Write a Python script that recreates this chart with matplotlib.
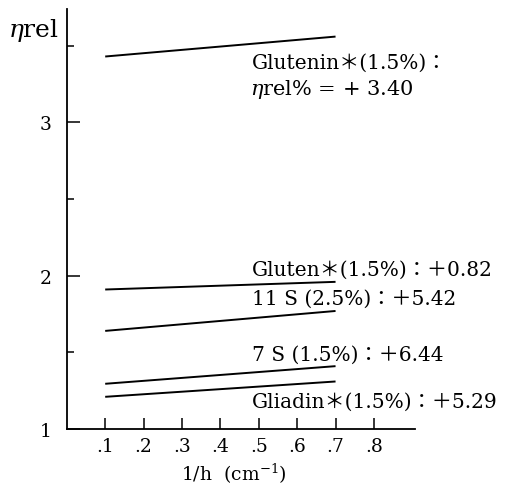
import numpy as np
import matplotlib.pyplot as plt
from matplotlib.ticker import FixedLocator

plt.rcParams['font.family'] = ['DejaVu Serif', 'Noto Sans CJK JP']
plt.rcParams['mathtext.fontset'] = 'dejavuserif'

# 1/h range of each fitted line and eta_rel at both ends
x_ends = [0.1, 0.7]
glutenin = [3.43, 3.56]
gluten = [1.91, 1.96]
s11 = [1.64, 1.77]
s7 = [1.295, 1.41]
gliadin = [1.21, 1.31]

series = [glutenin, gluten, s11, s7, gliadin]

labels = [
    "Glutenin＊(1.5%)：",
    "Gluten＊(1.5%)：＋0.82",
    "11 S (2.5%)：＋5.42",
    "7 S (1.5%)：＋6.44",
    "Gliadin＊(1.5%)：＋5.29",
]
label_xy = [(0.483, 3.39), (0.483, 2.04), (0.483, 1.856), (0.483, 1.49), (0.483, 1.18)]
glutenin_pct = "$\\eta$rel$\\%$ = + 3.40"

xticks = [0.1, 0.2, 0.3, 0.4, 0.5, 0.6, 0.7, 0.8]
xticklabels = [".1", ".2", ".3", ".4", ".5", ".6", ".7", ".8"]
yticks = [1, 2, 3]

fig = plt.figure(figsize=(5.26, 4.85), dpi=100)
ax = fig.add_axes([0.127, 0.1134, 0.662, 0.866])

for ys in series:
    ax.plot(x_ends, ys, color='black', lw=1.4, solid_capstyle='butt')

for txt, (tx, ty) in zip(labels, label_xy):
    ax.text(tx, ty, txt, fontsize=14.5, ha='left', va='center')
ax.text(0.477, 3.22, glutenin_pct, fontsize=15, ha='left', va='center')

ax.set_xlim(0, 0.907)
ax.set_ylim(1, 3.74)

ax.spines['top'].set_visible(False)
ax.spines['right'].set_visible(False)
ax.spines['left'].set_linewidth(1.3)
ax.spines['bottom'].set_linewidth(1.3)

ax.set_xticks(xticks)
ax.set_xticklabels(xticklabels)
ax.set_yticks(yticks)
ax.yaxis.set_minor_locator(FixedLocator([1.5, 2.5, 3.5]))
ax.tick_params(axis='both', which='major', direction='in', length=9, width=1.1,
               labelsize=13.5)
ax.tick_params(axis='x', which='major', length=8, pad=6)
ax.tick_params(axis='y', which='major', pad=11)
ax.tick_params(axis='y', which='minor', direction='in', length=5, width=1.1)

ax.set_xlabel("1/h  (cm$^{-1}$)", fontsize=13.5, labelpad=2)
ax.xaxis.set_label_coords(0.48, -0.075)
fig.text(0.015, 0.938, "$\\eta$rel", fontsize=18, ha='left', va='center')

fig.savefig("out.png", dpi=100)
